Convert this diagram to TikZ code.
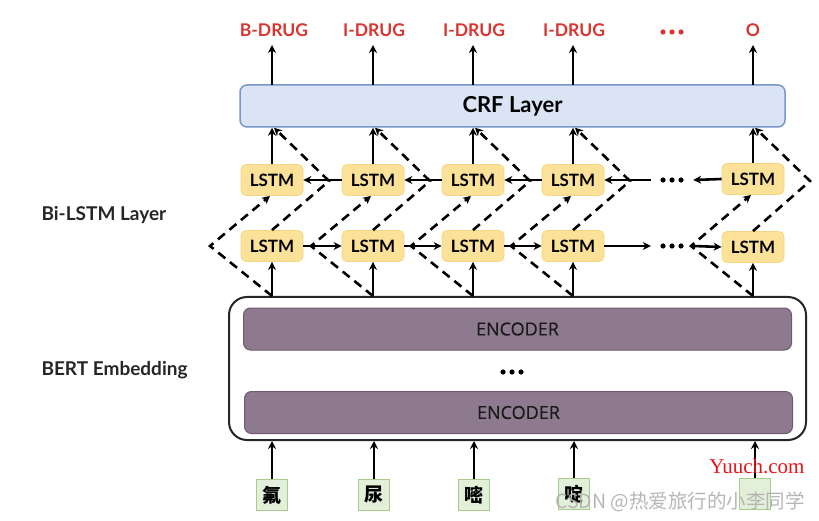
\documentclass[tikz,border=0pt]{standalone}
\usepackage{fontspec}
\setmainfont{Lato}
\newfontfamily\encfont[BoldFont={Open Sans},BoldFeatures={FakeBold=0.35}]{Open Sans}
\newfontfamily\cjk{Noto Sans CJK SC}
\newfontfamily\wmserif{Liberation Serif}
\usetikzlibrary{arrows.meta,calc}
\definecolor{lblred}{RGB}{217,52,48}
\definecolor{crffill}{RGB}{219,228,245}
\definecolor{crfdraw}{RGB}{120,150,205}
\definecolor{lstmfill}{RGB}{252,226,152}
\definecolor{lstmdraw}{RGB}{246,214,128}
\definecolor{encfill}{RGB}{142,122,142}
\definecolor{encdraw}{RGB}{112,90,115}
\definecolor{chfill}{RGB}{226,240,217}
\definecolor{chdraw}{RGB}{168,204,140}
\definecolor{wmgray}{RGB}{175,175,175}
\definecolor{wmred}{RGB}{235,20,25}
\tikzset{
  arr/.style={line width=2.6pt,-{Stealth[length=8pt,width=8pt]}},
  dsh/.style={line width=2.6pt,dash pattern=on 9pt off 6pt,-{Stealth[length=8pt,width=8pt]}},
  lbl/.style={text=lblred,font=\fontsize{17.5}{19}\selectfont\bfseries,inner sep=2pt},
  lstm/.style={fill=lstmfill,draw=lstmdraw,line width=0.8pt,rounded corners=5pt,minimum width=62pt,minimum height=31pt,font=\fontsize{17}{19}\selectfont\bfseries,inner sep=0pt},
  crfbox/.style={fill=crffill,draw=crfdraw,line width=1.5pt,rounded corners=7pt,minimum width=545pt,minimum height=42pt,font=\fontsize{22}{24}\selectfont\bfseries},
  encbox/.style={fill=encfill,draw=encdraw,line width=1pt,rounded corners=7pt,minimum width=548pt,minimum height=42pt,font=\encfont\fontsize{18}{20}\selectfont\bfseries,text=black!90},
  chbox/.style={fill=chfill,draw=chdraw,line width=1pt,minimum width=31pt,minimum height=31pt,font=\cjk\fontsize{19}{21}\selectfont\bfseries,inner sep=0pt},
  side/.style={font=\fontsize{19}{21}\selectfont\bfseries,anchor=west,text=black!85},
  dotsbox/.style={minimum width=26pt,minimum height=6pt,inner sep=0pt}
}
\newcommand{\threedots}[2]{\foreach \dx in {-9,0,9}{\fill[#2] (#1.center) ++(\dx pt,0) circle (2.6pt);}}
\begin{document}
\begin{tikzpicture}[x=1pt,y=-1pt]
\useasboundingbox (0,0) rectangle (819,521);
\fill[white] (0,0) rectangle (819,521);

% labels
\node[lbl] (l1) at (274,30) {B-DRUG};
\node[lbl] (l2) at (374,30) {I-DRUG};
\node[lbl] (l3) at (474,30) {I-DRUG};
\node[lbl] (l4) at (574,30) {I-DRUG};
\node[dotsbox] (l6) at (672,32) {};
\threedots{l6}{lblred}
\node[lbl] (l5) at (753,30) {O};

% CRF
\node[crfbox] (crf) at (512.5,106) {CRF Layer};

% side labels
\node[side] (bil) at (38,215) {Bi-LSTM Layer};
\node[side] (bel) at (38,370) {BERT Embedding};

% LSTM rows
\foreach \i/\x in {1/272,2/373,3/473,4/573}{
  \node[lstm] (t\i) at (\x,180) {LSTM};
  \node[lstm] (b\i) at (\x,246) {LSTM};
}
\node[lstm] (t5) at (753,179) {LSTM};
\node[lstm] (b5) at (753,247) {LSTM};
\node[dotsbox] (td) at (672,180) {};
\node[dotsbox] (bd) at (672,246) {};
\threedots{td}{black}
\threedots{bd}{black}

% BERT
\node[draw=black!85,line width=2pt,rounded corners=18pt,minimum width=577pt,minimum height=143pt,fill=white] (bert) at (517.5,368.5) {};
\node[encbox] (enc1) at (517.5,329) {ENCODER};
\node[encbox] (enc2) at (518.5,412.5) {ENCODER};
\node[dotsbox] (ed) at (512,372) {};
\threedots{ed}{black}

% chars
\node[chbox] (c1) at (272,495) {氟};
\node[chbox] (c2) at (374,495) {尿};
\node[chbox] (c3) at (474,495) {嘧};
\node[chbox] (c4) at (574,494) {啶};
\node[chbox] (c5) at (755,494) {};

% vertical solid arrows
\foreach \i/\x in {1/272,2/373,3/473,4/573,5/753}{
  \draw[arr] (\x,85) -- (\x,45);
  \draw[arr] (t\i.north) -- (t\i.north |- crf.south);
  \draw[arr] (b\i.south |- bert.north) -- (b\i.south);
}
\foreach \i in {1,...,5}{
  \draw[arr] (c\i.north) -- (c\i.north |- bert.south);
}

% dashed zigzags
\foreach \i/\x in {1/272,2/373,3/473,4/573,5/753}{
  \coordinate (lv\i) at (\x-62,246);
  \coordinate (rv\i) at (\x+57,181);
  \draw[dsh] (b\i.south |- bert.north) -- (lv\i) -- ([xshift=-2pt]t\i.south);
  \draw[dsh] (b\i.north) -- (rv\i) -- ([xshift=2pt]t\i.north |- crf.south);
}

% horizontal arrows top row (right to left)
\draw[arr] (t2.west) -- (t1.east);
\draw[arr] (t3.west) -- (t2.east);
\draw[arr] (t4.west) -- (t3.east);
\draw[arr] ([xshift=-8pt]td.west) -- (t4.east);
\draw[arr] (t5.west) -- ([xshift=8pt]td.east);
% bottom row (left to right)
\draw[arr] (b1.east) -- (b2.west);
\draw[arr] (b2.east) -- (b3.west);
\draw[arr] (b3.east) -- (b4.west);
\draw[arr] (b4.east) -- ([xshift=-8pt]bd.west);
\draw[arr] ([xshift=8pt]bd.east) -- (b5.west);

% watermarks
\node[text=wmred,font=\wmserif\fontsize{21}{23}\selectfont] (wm1) at (757,466) {Yuuch.com};
\node[text=wmgray,font=\cjk\fontsize{19.5}{21}\selectfont,opacity=0.9] (wm2) at (680,502) {CSDN @热爱旅行的小李同学};
\end{tikzpicture}
\end{document}
